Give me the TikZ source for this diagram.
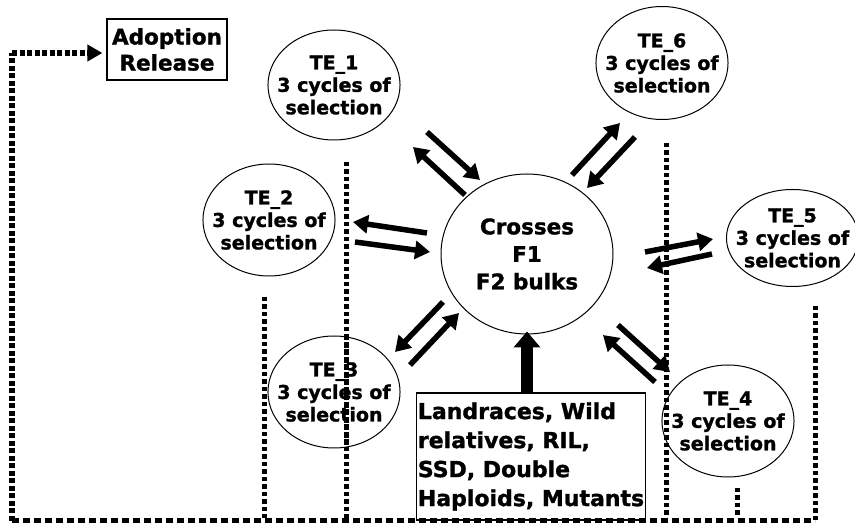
\documentclass[tikz,border=0pt]{standalone}
\usepackage{fontspec}
\setmainfont{DejaVu Sans}[BoldFeatures={FakeBold=1.3}]
\usetikzlibrary{shapes.geometric,arrows.meta}
\begin{document}
\begin{tikzpicture}[x=1pt,y=-1pt,
  te/.style={ellipse,draw,line width=1pt,inner sep=-10pt,align=center,
    font=\bfseries\fontsize{19}{22.5}\selectfont},
  bigell/.style={ellipse,draw,line width=1pt,inner sep=0pt,align=center,
    font=\bfseries\fontsize{21.5}{27.5}\selectfont},
  rbox/.style={rectangle,draw,line width=1.2pt,inner sep=1pt},
  flow/.style={line width=5.5pt,-{Triangle[length=15pt,width=18pt]}},
  dotv/.style={line width=5pt,dash pattern=on 4.5pt off 3pt},
  doth/.style={line width=5pt,dash pattern=on 7pt off 4pt},
  dotouter/.style={line width=5.5pt,dash pattern=on 5pt off 2.5pt}]
\useasboundingbox (0,0) rectangle (855,526);

% nodes
\node[rbox,minimum width=120pt,minimum height=61pt,align=center,
  font=\bfseries\fontsize{21.5}{26}\selectfont] (adopt) at (167,49.5) {Adoption\\Release};
\node[te,minimum width=128pt,minimum height=110pt] (te1) at (334,85) {TE\_1\\3 cycles of\\selection};
\node[te,minimum width=132pt,minimum height=112pt] (te2) at (269,220) {TE\_2\\3 cycles of\\selection};
\node[te,minimum width=128pt,minimum height=113pt] (te6) at (662,63) {TE\_6\\3 cycles of\\selection};
\node[te,minimum width=121pt,minimum height=97pt] (te5) at (792.5,238) {TE\_5\\3 cycles of\\selection};
\node[te,minimum width=128pt,minimum height=112pt] (te4) at (728,421) {TE\_4\\3 cycles of\\selection};
\node[bigell,minimum width=172pt,minimum height=160pt] (cross) at (527,254) {Crosses\\F1\\F2 bulks};
\node[rbox,minimum width=228pt,minimum height=127pt,align=left,
  font=\bfseries\fontsize{22}{29}\selectfont] (land) at (531,456.5)
  {Landraces, Wild\\relatives, RIL,\\SSD, Double\\Haploids, Mutants};

% dotted lines (behind TE_3)
\coordinate (lt) at (12,53);
\coordinate (lb) at (12,521);
\coordinate (rb) at (815,521);
\coordinate (rt) at (815,306);
\coordinate (v1t) at (346,162); \coordinate (v1b) at (346,518);
\coordinate (v2t) at (264,297); \coordinate (v2b) at (264,518);
\coordinate (v3t) at (666,143); \coordinate (v3b) at (666,518);
\coordinate (v4t) at (737,488); \coordinate (v4b) at (737,518);
\draw[dotouter,-{Triangle[length=15pt,width=16pt]}] (lt) -- ([xshift=-4pt]adopt.west |- lt);
\draw[dotouter] (lb) -- (lt);
\draw[doth] (lb) -- (rb);
\draw[dotv] (rt) -- (rb);
\draw[dotv] (v1t) -- (v1b);
\draw[dotv] (v2t) -- (v2b);
\draw[dotv] (v3t) -- (v3b);
\draw[dotv] (v4t) -- (v4b);

\node[te,minimum width=126pt,minimum height=112pt] (te3) at (334,392) {TE\_3\\3 cycles of\\selection};
\draw[dotv] (346,336) -- (346,448);

% arrows
\coordinate (a1s) at (427,132); \coordinate (a1e) at (480,180);
\coordinate (b1s) at (465,195); \coordinate (b1e) at (413,147);
\coordinate (a2s) at (427,233); \coordinate (a2e) at (353,222);
\coordinate (b2s) at (355,242); \coordinate (b2e) at (430,252);
\coordinate (a3s) at (443,302); \coordinate (a3e) at (395,352);
\coordinate (b3s) at (410,365); \coordinate (b3e) at (459,313);
\coordinate (a6s) at (572,175); \coordinate (a6e) at (620,123);
\coordinate (b6s) at (635,137); \coordinate (b6e) at (587,188);
\coordinate (a5s) at (645,252); \coordinate (a5e) at (713,239);
\coordinate (b5s) at (712,254); \coordinate (b5e) at (647,268);
\coordinate (a4s) at (618,325); \coordinate (a4e) at (670,372);
\coordinate (b4s) at (655,382); \coordinate (b4e) at (603,335);
\draw[flow] (a1s) -- (a1e);
\draw[flow] (b1s) -- (b1e);
\draw[flow] (a2s) -- (a2e);
\draw[flow] (b2s) -- (b2e);
\draw[flow] (a3s) -- (a3e);
\draw[flow] (b3s) -- (b3e);
\draw[flow] (a6s) -- (a6e);
\draw[flow] (b6s) -- (b6e);
\draw[flow] (a5s) -- (a5e);
\draw[flow] (b5s) -- (b5e);
\draw[flow] (a4s) -- (a4e);
\draw[flow] (b4s) -- (b4e);
\draw[line width=12pt,-{Triangle[length=16pt,width=26pt]}] (land.north -| cross.south) -- ([yshift=3pt]cross.south);
\end{tikzpicture}
\end{document}
